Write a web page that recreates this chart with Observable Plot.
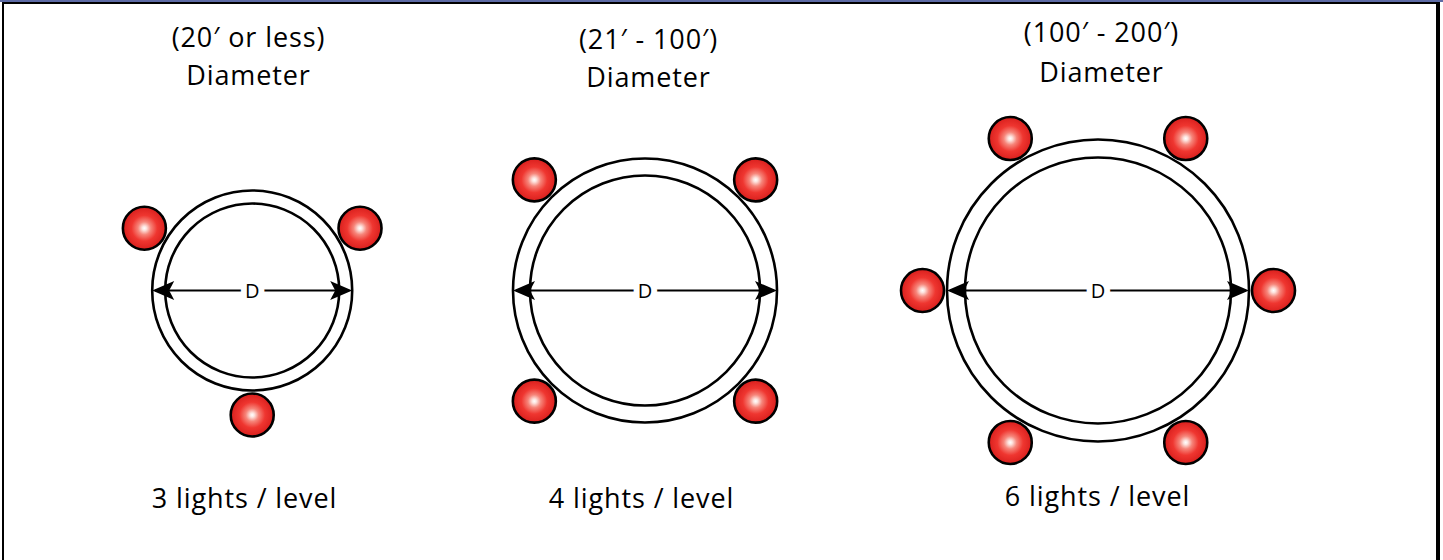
<!DOCTYPE html>
<html>
<head>
<meta charset="utf-8">
<script src="https://cdn.jsdelivr.net/npm/d3@7"></script>
<script src="https://cdn.jsdelivr.net/npm/@observablehq/plot@0.6"></script>
<style>
  html, body { margin: 0; padding: 0; background: #ffffff; }
  #wrap { position: relative; width: 1443px; height: 560px; overflow: hidden; background: #ffffff; }
  #wrap svg { position: absolute; left: 0; top: 0; }
  .b { position: absolute; pointer-events: none; }
</style>
</head>
<body>
<div id="wrap">
  <div id="chart"></div>
  <div class="b" style="left:0;top:0;width:1443px;height:2px;background:#5d6ba5"></div>
  <div class="b" style="left:2px;top:2px;width:1438px;height:2px;background:#000"></div>
  <div class="b" style="left:2px;top:2px;width:2px;height:558px;background:#000"></div>
  <div class="b" style="left:1436px;top:2px;width:4px;height:558px;background:#000"></div>
</div>
<script>
// ---- data ----
const rangeLabels = ["(20\u2032 or less)", "(21\u2032 - 100\u2032)", "(100\u2032 - 200\u2032)"];
const diameterLabel = "Diameter";
const lightCounts = [3, 4, 6];
const countLabels = ["3 lights / level", "4 lights / level", "6 lights / level"];
const dimensionLabel = "D";

// ---- layout (pixels) ----
const W = 1443, H = 560;
const centerX = [251.7, 644.5, 1097.5];
const centerY = 290;
const outerR = [100, 132, 151];
const innerR = [87, 115, 133];
const lightStart = [90, 45, 0];
const lightR = 21.5;
const lightGap = 24.5;
const titleX = [248, 648, 1101];
const titleY1 = [46, 48, 41];
const titleY2 = [84, 86, 81];
const labelX = [244, 641, 1097];
const labelY = [507, 507, 505];
const FONT = "'Open Sans', sans-serif";
const FS = 27;

const diagrams = rangeLabels.map((t, i) => ({
  i, title: t, count: lightCounts[i], label: countLabels[i],
  cx: centerX[i], cy: centerY, ro: outerR[i], ri: innerR[i]
}));

const rings = diagrams.flatMap(d => [
  {x: d.cx, y: d.cy, r: d.ro},
  {x: d.cx, y: d.cy, r: d.ri}
]);

const lights = diagrams.flatMap(d => d3.range(d.count).map(k => {
  const a = (lightStart[d.i] + k * 360 / d.count) * Math.PI / 180;
  const dist = d.ro + lightGap;
  return {x: d.cx + dist * Math.cos(a), y: d.cy + dist * Math.sin(a)};
}));

const AL = 22, AW = 9.5, AN = 17;
const heads = diagrams.flatMap(d => [-1, 1].flatMap(s => {
  const tip = d.cx + s * d.ro;
  const id = d.i + "_" + s;
  return [
    {id, x: tip, y: d.cy},
    {id, x: tip - s * AL, y: d.cy - AW},
    {id, x: tip - s * AN, y: d.cy},
    {id, x: tip - s * AL, y: d.cy + AW}
  ];
}));

const plot = Plot.plot({
  width: W, height: H, margin: 0,
  style: {background: "transparent"},
  x: {domain: [0, W], range: [0, W], axis: null},
  y: {domain: [0, H], range: [0, H], axis: null},
  r: {type: "identity"},
  marks: [
    Plot.dot(rings, {x: "x", y: "y", r: "r", fill: "white", stroke: "black", strokeWidth: 2.6}),
    Plot.link(diagrams, {x1: d => d.cx - d.ro + 3, y1: "cy", x2: d => d.cx + d.ro - 3, y2: "cy", stroke: "black", strokeWidth: 2}),
    Plot.line(heads, {x: "x", y: "y", z: "id", fill: "black", stroke: "none"}),
    Plot.text(diagrams, {x: "cx", y: "cy", text: () => dimensionLabel, fontSize: 20, fontFamily: FONT, fill: "black", stroke: "white", strokeWidth: 12, dy: 1}),
    Plot.dot(lights, {x: "x", y: "y", r: () => lightR, fill: "url(#bulb)", stroke: "black", strokeWidth: 2.6}),
    Plot.text(diagrams, {x: d => titleX[d.i], y: d => titleY1[d.i], text: "title", lineAnchor: "bottom", fontSize: FS, fontFamily: FONT, fill: "black", className: "spaced"}),
    Plot.text(diagrams, {x: d => titleX[d.i], y: d => titleY2[d.i], text: () => diameterLabel, lineAnchor: "bottom", fontSize: FS, fontFamily: FONT, fill: "black", className: "spaced"}),
    Plot.text(diagrams, {x: d => labelX[d.i], y: d => labelY[d.i], text: "label", lineAnchor: "bottom", fontSize: FS, fontFamily: FONT, fill: "black", className: "spaced"})
  ]
});

const svg = d3.select(plot);
svg.selectAll(".spaced text").style("letter-spacing", "0.9px");
const defs = svg.insert("defs", ":first-child");
const g = defs.append("radialGradient").attr("id", "bulb").attr("cx", "50%").attr("cy", "50%").attr("r", "50%");
[[0, "#ffffff"], [0.1, "#fde4df"], [0.3, "#f6857a"], [0.6, "#ef3630"], [1, "#d91f1d"]]
  .forEach(([o, c]) => g.append("stop").attr("offset", o).attr("stop-color", c));

document.getElementById("chart").appendChild(plot);
</script>
</body>
</html>
